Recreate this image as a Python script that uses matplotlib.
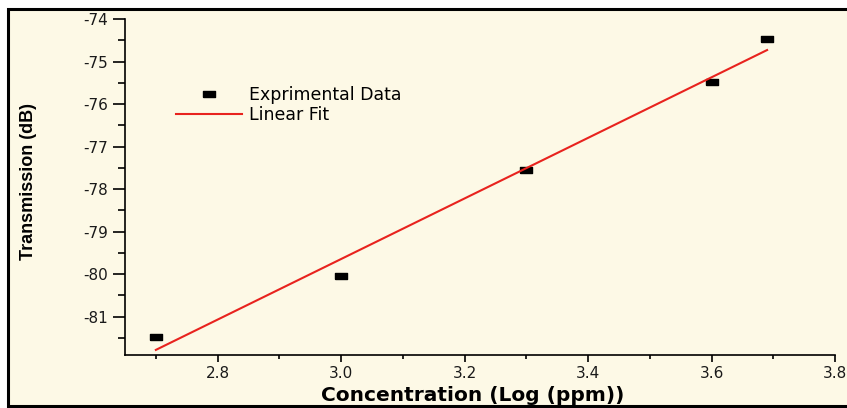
import matplotlib
matplotlib.use("Agg")
import matplotlib.pyplot as plt
from matplotlib.patches import Rectangle
from matplotlib.ticker import MultipleLocator, FormatStrFormatter

plt.rcParams["axes.unicode_minus"] = False
plt.rcParams["font.family"] = "DejaVu Sans"

# data
conc = [2.70, 3.00, 3.30, 3.60, 3.69]
trans = [-81.47, -80.04, -77.55, -75.48, -74.47]
fit_x = [2.70, 3.69]
fit_y = [-81.78, -74.73]

bg = "#fdf9e6"
fig = plt.figure(figsize=(8.47, 4.08), dpi=100, facecolor="white")

# cream panel with black frame around the whole plot
frame = Rectangle((8 / 847, 2 / 408), 1.0, 1 - 8.5 / 408 - 2 / 408,
                  transform=fig.transFigure, facecolor=bg, edgecolor="black",
                  linewidth=2.2, zorder=-10)
fig.patches.append(frame)

ax = fig.add_axes([125 / 847, 1 - 355 / 408, (835 - 125) / 847, (355 - 19) / 408])
ax.set_facecolor("none")
ax.set_zorder(5)

rect = [(-1, -0.5), (1, -0.5), (1, 0.5), (-1, 0.5), (-1, -0.5)]
ax.plot(conc, trans, linestyle="none", marker=rect, markersize=9,
        color="black", label="Exprimental Data")
ax.plot(fit_x, fit_y, color="#e8231e", linewidth=1.5, label="Linear Fit")

ax.set_xlim(2.65, 3.8)
ax.set_ylim(-81.9, -74)
ax.xaxis.set_major_locator(MultipleLocator(0.2))
ax.xaxis.set_minor_locator(MultipleLocator(0.1))
ax.yaxis.set_major_locator(MultipleLocator(1))
ax.yaxis.set_minor_locator(MultipleLocator(0.5))
ax.xaxis.set_major_formatter(FormatStrFormatter("%.1f"))

for s in ["top", "right"]:
    ax.spines[s].set_visible(False)
for s in ["left", "bottom"]:
    ax.spines[s].set_linewidth(1.2)

ax.tick_params(axis="x", which="major", length=5, width=1.2, pad=3,
               labelsize=11, labelcolor="#1a1a1a")
ax.tick_params(axis="x", which="minor", length=3, width=1.2)
ax.tick_params(axis="y", which="major", length=8.5, width=1.2, pad=4,
               labelsize=11, labelcolor="#1a1a1a")
ax.tick_params(axis="y", which="minor", length=5, width=1.2)

ax.set_xlabel("Concentration (Log (ppm))", fontsize=14.5, fontweight="bold")
ax.xaxis.set_label_coords(0.489, -0.093)
ax.set_ylabel("Transmission (dB)", fontsize=13, fontweight="bold",
              family="Liberation Sans")
ax.yaxis.set_label_coords(-0.124, 0.515)

leg = ax.legend(loc="upper left", bbox_to_anchor=(0.05, 0.848), frameon=False,
                handlelength=3.8, handletextpad=0.4, labelspacing=0.12,
                prop={"size": 12.5})

fig.savefig("out.png", dpi=100, facecolor="white")
